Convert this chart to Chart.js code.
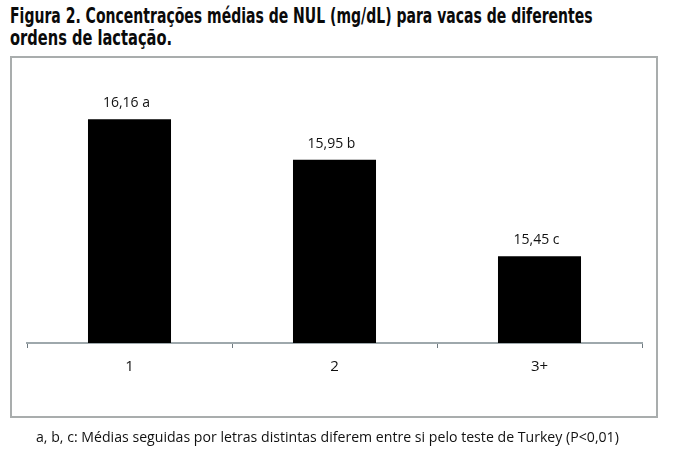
<!DOCTYPE html>
<html>
<head>
<meta charset="utf-8">
<script src="https://cdn.jsdelivr.net/npm/chart.js@4.4.1/dist/chart.umd.min.js"></script>
<style>
  html, body { margin: 0; padding: 0; background: #fff; }
  #page { position: relative; width: 678px; height: 461px; overflow: hidden; }
  .title {
    position: absolute; left: 10px; white-space: nowrap;
    font-family: "Liberation Sans Narrow", "DejaVu Sans Condensed", sans-serif;
    font-weight: bold; font-size: 20.5px; color: #0a0a0a; transform-origin: 0 0;
  }
  #box {
    position: absolute; left: 10px; top: 56px; width: 644px; height: 358px;
    border: 2px solid #a9adad;
  }
  #note {
    position: absolute; left: 36px; top: 426px; white-space: nowrap;
    font-family: "Open Sans", sans-serif; font-size: 15px; color: #111;
    transform-origin: 0 0;
  }
  canvas { position: absolute; left: 0; top: 0; }
</style>
</head>
<body>
<div id="page">
  <div class="title" id="t1" style="top:4px">Figura 2. Concentrações médias de NUL (mg/dL) para vacas de diferentes</div>
  <div class="title" id="t2" style="top:26px">ordens de lactação.</div>
  <div id="box"></div>
  <canvas id="nulChart" width="678" height="461"></canvas>
  <div id="note">a, b, c: Médias seguidas por letras distintas diferem entre si pelo teste de Turkey (P&lt;0,01)</div>
</div>
<script>
// dados da figura
var categorias = ['1', '2', '3+'];
var medias = [16.16, 15.95, 15.45];
var letras = ['a', 'b', 'c'];

// ajusta largura dos textos ao original
function fitWidth(id, w) {
    var el = document.getElementById(id);
    el.style.transform = 'scaleX(' + (w / el.offsetWidth) + ')';
}
fitWidth('t1', 583);
fitWidth('t2', 162);
fitWidth('note', 583);

// rótulos acima das barras
var rotulos = {
    id: 'rotulos',
    afterDatasetsDraw: function (chart) {
        var ctx = chart.ctx;
        var meta = chart.getDatasetMeta(0);
        ctx.save();
        ctx.font = '14px "Open Sans", sans-serif';
        ctx.fillStyle = '#111';
        ctx.textAlign = 'center';
        ctx.textBaseline = 'alphabetic';
        meta.data.forEach(function (bar, i) {
            var txt = medias[i].toFixed(2).replace('.', ',') + ' ' + letras[i];
            ctx.fillText(txt, bar.x - 3, bar.y - 12);
        });
        ctx.restore();
    }
};

var ctx = document.getElementById('nulChart').getContext('2d');
var nulChart = new Chart(ctx, {
    type: 'bar',
    data: {
        labels: categorias,
        datasets: [{
            data: medias,
            backgroundColor: '#000000',
            borderWidth: 0,
            categoryPercentage: 1,
            barPercentage: 0.405
        }]
    },
    options: {
        responsive: false,
        animation: false,
        layout: { padding: { left: 27, right: 36, top: 73, bottom: 0 } },
        plugins: {
            legend: { display: false },
            tooltip: { enabled: false }
        },
        scales: {
            x: {
                afterFit: function (scale) { scale.height = 118; },
                grid: {
                    drawOnChartArea: false,
                    drawTicks: true,
                    tickLength: 5,
                    color: '#6f7a80',
                    lineWidth: 1
                },
                border: { display: true, color: '#9ea8ac', width: 2 },
                ticks: {
                    color: '#111',
                    padding: 10,
                    font: { family: '"Open Sans", sans-serif', size: 15 }
                }
            },
            y: {
                display: false,
                min: 15,
                max: 16.4
            }
        }
    },
    plugins: [rotulos]
});
</script>
</body>
</html>
